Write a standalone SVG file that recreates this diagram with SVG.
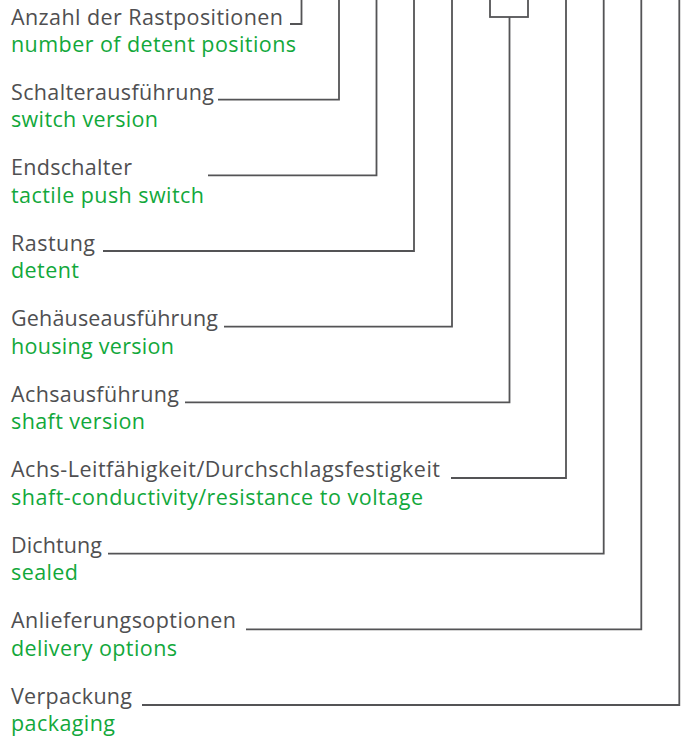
<svg xmlns="http://www.w3.org/2000/svg" width="685" height="737" viewBox="0 0 685 737">
<style>
  .de { font-family: "Open Sans", "Liberation Sans", sans-serif; font-size: 21.5px; fill: #4f4f51; }
  .en { font-family: "Open Sans", "Liberation Sans", sans-serif; font-size: 21.5px; fill: #12a83b; }
  .ln { fill: none; stroke: #545456; stroke-width: 1.8; }
</style>
<rect width="685" height="737" fill="#ffffff"/>
<g id="connectors">
  <path class="ln" d="M290 24 H301.5 V0"/>
  <path class="ln" d="M218 99.7 H339 V0"/>
  <path class="ln" d="M208 175.3 H376.5 V0"/>
  <path class="ln" d="M103 251 H414 V0"/>
  <path class="ln" d="M224 326.7 H452 V0"/>
  <path class="ln" d="M185 402.3 H509.5 V17"/>
  <path class="ln" d="M451 478 H566 V0"/>
  <path class="ln" d="M108 553.7 H603.7 V0"/>
  <path class="ln" d="M246 629.3 H641.3 V0"/>
  <path class="ln" d="M142 705 H679.3 V0"/>
</g>
<g id="code-box">
  <rect class="ln" x="490" y="-3" width="38" height="20"/>
</g>
<g id="node-rastpositionen">
  <text class="de" x="11" y="24.5" textLength="272">Anzahl der Rastpositionen</text>
  <text class="en" x="11" y="52" textLength="285">number of detent positions</text>
</g>
<g id="node-schalterausfuehrung">
  <text class="de" x="11" y="99.7" textLength="203">Schalterausführung</text>
  <text class="en" x="11" y="127.2" textLength="147">switch version</text>
</g>
<g id="node-endschalter">
  <text class="de" x="11" y="175.3" textLength="121">Endschalter</text>
  <text class="en" x="11" y="202.8" textLength="193">tactile push switch</text>
</g>
<g id="node-rastung">
  <text class="de" x="11" y="250.5" textLength="84">Rastung</text>
  <text class="en" x="11" y="278" textLength="68">detent</text>
</g>
<g id="node-gehaeuse">
  <text class="de" x="11" y="326" textLength="207">Gehäuseausführung</text>
  <text class="en" x="11" y="353.5" textLength="163">housing version</text>
</g>
<g id="node-achsausfuehrung">
  <text class="de" x="11" y="401.5" textLength="168">Achsausführung</text>
  <text class="en" x="11" y="429" textLength="134">shaft version</text>
</g>
<g id="node-leitfaehigkeit">
  <text class="de" x="11" y="477" textLength="429">Achs-Leitfähigkeit/Durchschlagsfestigkeit</text>
  <text class="en" x="11" y="504.5" textLength="412">shaft-conductivity/resistance to voltage</text>
</g>
<g id="node-dichtung">
  <text class="de" x="11" y="552.5" textLength="91">Dichtung</text>
  <text class="en" x="11" y="580" textLength="67">sealed</text>
</g>
<g id="node-anlieferung">
  <text class="de" x="11" y="628" textLength="225">Anlieferungsoptionen</text>
  <text class="en" x="11" y="655.5" textLength="166">delivery options</text>
</g>
<g id="node-verpackung">
  <text class="de" x="11" y="703.5" textLength="121">Verpackung</text>
  <text class="en" x="11" y="730.5" textLength="104">packaging</text>
</g>
</svg>
